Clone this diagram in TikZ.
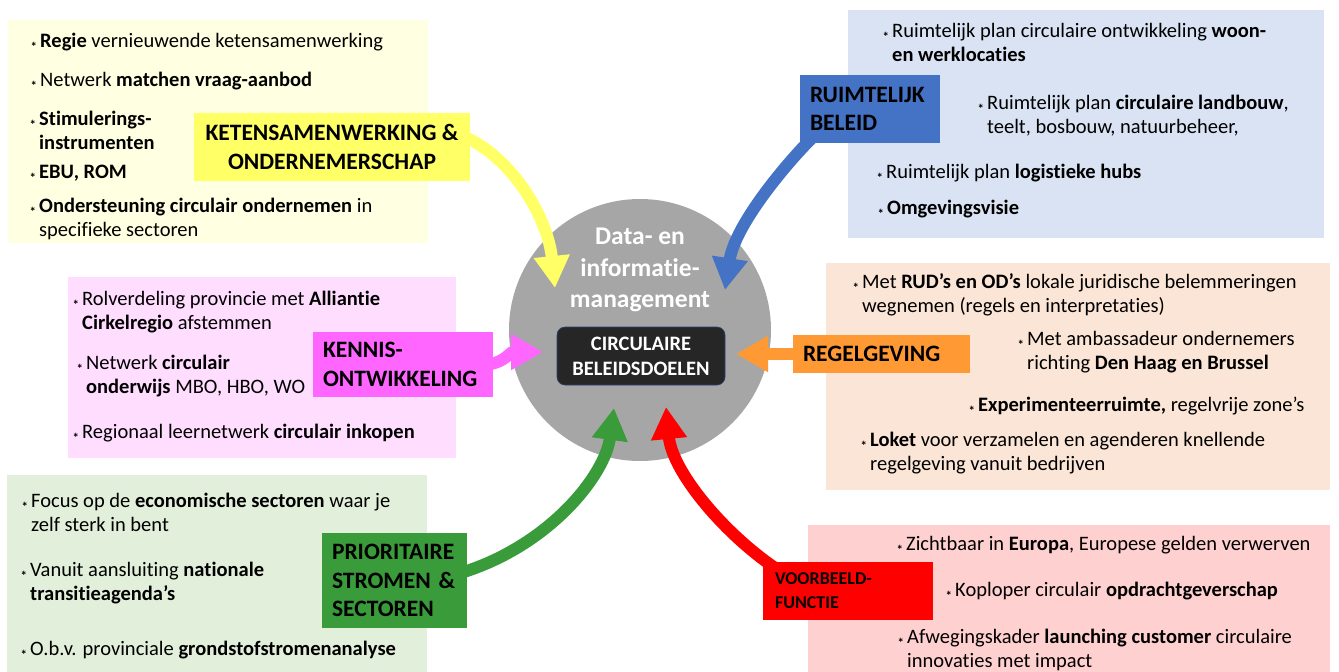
\documentclass[tikz,border=0pt]{standalone}
\usepackage{fontspec}
\setmainfont[Ligatures=NoCommon]{Carlito}
\usetikzlibrary{arrows.meta}

\definecolor{ypanel}{RGB}{255,255,225}
\definecolor{ylab}{RGB}{255,255,102}
\definecolor{bpanel}{RGB}{218,227,243}
\definecolor{blab}{RGB}{68,114,196}
\definecolor{ppanel}{RGB}{255,221,255}
\definecolor{plab}{RGB}{255,102,255}
\definecolor{opanel}{RGB}{251,229,214}
\definecolor{olab}{RGB}{255,153,51}
\definecolor{gpanel}{RGB}{226,239,218}
\definecolor{glab}{RGB}{58,155,58}
\definecolor{rpanel}{RGB}{255,208,208}
\definecolor{rlab}{RGB}{255,0,0}
\definecolor{circgray}{RGB}{166,166,166}
\definecolor{boxblack}{RGB}{38,38,38}

\newcommand\bul{\strut\llap{\raisebox{-4pt}{\fontsize{13}{13}\selectfont\textbf{*}}\hspace{3pt}}}

\pgfdeclarelayer{back}
\pgfdeclarelayer{mid}
\pgfsetlayers{back,mid,main}

\tikzset{
  item/.style={anchor=north west, inner sep=0pt, align=left, font=\fontsize{20.5}{24}\selectfont},
  lab/.style={inner sep=0pt, align=left, font=\fontsize{23.5}{28.5}\selectfont\bfseries},
  arr/.style={line width=12pt, -{Triangle[length=32pt,width=34pt]}},
}

\begin{document}
\begin{tikzpicture}[x=1pt,y=-1pt]
\useasboundingbox (0,0) rectangle (1339,672);
\begin{pgfonlayer}{back}
\fill[white] (0,0) rectangle (1339,672);
\foreach \x/\y/\X/\Y/\c in {8/20/428/243/ypanel,848/10/1324/238/bpanel,68/277/456/458/ppanel,
  826/263/1330/490/opanel,7/475/427/672/gpanel,808/525/1330/672/rpanel}
  \fill[\c] (\x,\y) rectangle (\X,\Y);
\node[circle, fill=circgray, minimum size=262pt, inner sep=0pt] (circ) at (640,330) {};
\end{pgfonlayer}

% centre
\node[text=white, align=center, font=\fontsize{25.5}{31.5}\selectfont\bfseries] (data) at (640,270) {Data- en\\informatie-\\management};
\node[draw=blab!60!black, line width=0.6pt, fill=boxblack, rounded corners=8pt, minimum width=168pt, minimum height=58pt,
  text=white, align=center, font=\fontsize{20.5}{25}\selectfont\bfseries] (doel) at (641,356) {CIRCULAIRE\\BELEIDSDOELEN};

% labels
\node[lab, fill=ylab, minimum width=276pt, minimum height=68pt, align=center] (ket) at (332,147) {KETENSAMENWERKING \&\\ONDERNEMERSCHAP};
\node[lab, fill=blab, minimum width=140pt, minimum height=68pt, text width=120pt] (rui) at (870,109) {RUIMTELIJK\\BELEID};
\node[lab, fill=plab, minimum width=180pt, minimum height=65pt, text width=160pt] (ken) at (403,364.5) {KENNIS-\\ONTWIKKELING};
\node[lab, fill=olab, minimum width=177pt, minimum height=38pt, text width=157pt] (reg) at (881.5,354) {REGELGEVING};
\node[lab, fill=glab, minimum width=145pt, minimum height=95pt, text width=125pt] (pri) at (394.5,580.5) {PRIORITAIRE\\STROMEN \&\\SECTOREN};
\node[lab, fill=rlab, minimum width=170pt, minimum height=58pt, text width=146pt, font=\fontsize{18}{24}\selectfont\bfseries] (voo) at (848,591) {VOORBEELD-\\FUNCTIE};

% arrow tips
\coordinate (tK) at (555,288);
\coordinate (tR) at (725,290);
\coordinate (tN) at (543,352);
\coordinate (tE) at (736,354);
\coordinate (tP) at (614,408);
\coordinate (tV) at (666,407);

\begin{pgfonlayer}{mid}
\draw[arr, ylab] ([xshift=-5pt,yshift=10pt]ket.east) .. controls (515,160) and (548,220) .. (tK);
\draw[arr, blab] ([xshift=12pt,yshift=5pt]rui.south west) .. controls (785,165) and (735,225) .. (tR);
\draw[arr, plab] ([xshift=-5pt]ken.east) .. controls (505,362) and (510,352) .. (tN);
\draw[arr, olab] ([xshift=5pt]reg.west) -- (tE);
\draw[arr, glab] ([xshift=-5pt,yshift=8pt]pri.east) .. controls (550,545) and (605,475) .. (tP);
\draw[arr, rlab] ([xshift=12pt,yshift=-6pt]voo.north west) .. controls (720,530) and (672,470) .. (tV);
\end{pgfonlayer}

% ketensamenwerking
\node[item] (k1) at (40,30) {\bul\textbf{Regie} vernieuwende ketensamenwerking};
\node[item] (k2) at (40,69) {\bul Netwerk \textbf{matchen vraag-aanbod}};
\node[item] (k3) at (39,108) {\bul\textbf{Stimulerings-}\\\textbf{instrumenten}};
\node[item] (k4) at (39,161) {\bul\textbf{EBU, ROM}};
\node[item] (k5) at (39,195) {\bul\textbf{Ondersteuning circulair ondernemen} in\\specifieke sectoren};

% ruimtelijk beleid
\node[item] (r1) at (892,20) {\bul Ruimtelijk plan circulaire ontwikkeling \textbf{woon-}\\\textbf{en werklocaties}};
\node[item] (r2) at (987,92) {\bul Ruimtelijk plan \textbf{circulaire landbouw},\\teelt, bosbouw, natuurbeheer,};
\node[item] (r3) at (886,161) {\bul Ruimtelijk plan \textbf{logistieke hubs}};
\node[item] (r4) at (887,197) {\bul\textbf{Omgevingsvisie}};

% kennisontwikkeling
\node[item] (n1) at (82,288) {\bul Rolverdeling provincie met \textbf{Alliantie}\\\textbf{Cirkelregio} afstemmen};
\node[item] (n2) at (86,352) {\bul Netwerk \textbf{circulair}\\\textbf{onderwijs} MBO, HBO, WO};
\node[item] (n3) at (82,421) {\bul Regionaal leernetwerk \textbf{circulair inkopen}};

% regelgeving
\node[item] (g1) at (862,271) {\bul Met \textbf{RUD’s en OD’s} lokale juridische belemmeringen\\wegnemen (regels en interpretaties)};
\node[item] (g2) at (1027,328) {\bul Met ambassadeur ondernemers\\richting \textbf{Den Haag en Brussel}};
\node[item] (g3) at (978,394) {\bul\textbf{Experimenteerruimte,} regelvrije zone’s};
\node[item] (g4) at (870,429) {\bul\textbf{Loket} voor verzamelen en agenderen knellende\\regelgeving vanuit bedrijven};

% prioritaire stromen
\node[item] (p1) at (31,490) {\bul Focus op de \textbf{economische sectoren} waar je\\zelf sterk in bent};
\node[item] (p2) at (30,559) {\bul Vanuit aansluiting \textbf{nationale}\\\textbf{transitieagenda’s}};
\node[item] (p3) at (30,638) {\bul O.b.v. provinciale \textbf{grondstofstromenanalyse}};

% voorbeeldfunctie
\node[item] (v1) at (906,533) {\bul Zichtbaar in \textbf{Europa}, Europese gelden verwerven};
\node[item] (v2) at (955,579) {\bul Koploper circulair \textbf{opdrachtgeverschap}};
\node[item] (v3) at (907,626) {\bul Afwegingskader \textbf{launching customer} circulaire\\innovaties met impact};
\end{tikzpicture}
\end{document}
